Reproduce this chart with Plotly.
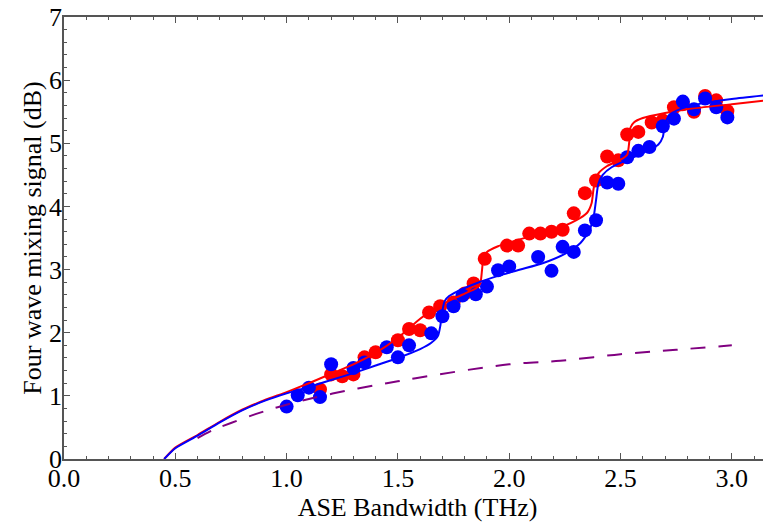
import plotly.graph_objects as go

# ---- measured data points ----
red_x = [1.15, 1.20, 1.25, 1.30, 1.35, 1.40, 1.50, 1.55, 1.60, 1.64, 1.69, 1.75, 1.80, 1.84,
         1.89, 1.99, 2.04, 2.09, 2.14, 2.19, 2.24, 2.29, 2.34, 2.39, 2.44, 2.49, 2.53, 2.58,
         2.64, 2.69, 2.74, 2.78, 2.83, 2.88, 2.93, 2.98]
red_y = [1.10, 1.34, 1.31, 1.34, 1.61, 1.69, 1.88, 2.06, 2.04, 2.32, 2.42, 2.48, 2.62, 2.78,
         3.17, 3.38, 3.38, 3.57, 3.57, 3.60, 3.63, 3.89, 4.21, 4.41, 4.79, 4.73, 5.14, 5.18,
         5.33, 5.36, 5.57, 5.62, 5.50, 5.75, 5.68, 5.51]

blue_x = [1.00, 1.05, 1.10, 1.15, 1.20, 1.30, 1.35, 1.45, 1.50, 1.55, 1.65, 1.70, 1.75, 1.79,
          1.85, 1.90, 1.95, 2.00, 2.13, 2.19, 2.24, 2.29, 2.34, 2.39, 2.44, 2.49, 2.53, 2.58,
          2.63, 2.69, 2.74, 2.78, 2.83, 2.88, 2.93, 2.98]
blue_y = [0.83, 1.01, 1.13, 0.98, 1.50, 1.44, 1.53, 1.77, 1.61, 1.80, 1.99, 2.26, 2.42, 2.59,
          2.61, 2.73, 2.99, 3.05, 3.20, 2.98, 3.36, 3.28, 3.62, 3.78, 4.38, 4.36, 4.78, 4.88,
          4.94, 5.27, 5.39, 5.66, 5.54, 5.71, 5.57, 5.41]

# ---- fitted curves ----
red_fit_x = [0.45, 0.50, 0.60, 0.70, 0.80, 0.90, 1.00, 1.10, 1.20, 1.30, 1.40, 1.50, 1.60, 1.65,
             1.70, 1.75, 1.80, 1.85, 1.87, 1.878, 1.885, 1.90, 1.95, 2.00, 2.10, 2.20, 2.30,
             2.35, 2.37, 2.38, 2.40, 2.44, 2.50, 2.53, 2.54, 2.545, 2.56, 2.60, 2.70, 2.80,
             3.00, 3.18]
red_fit_y = [0.00, 0.18, 0.38, 0.59, 0.78, 0.93, 1.06, 1.20, 1.35, 1.50, 1.68, 1.92, 2.22, 2.35,
             2.45, 2.54, 2.62, 2.70, 2.78, 3.00, 3.20, 3.28, 3.37, 3.43, 3.53, 3.63, 3.78,
             3.90, 4.05, 4.30, 4.52, 4.64, 4.74, 4.82, 5.05, 5.25, 5.33, 5.40, 5.48, 5.54,
             5.62, 5.69]

blue_fit_x = [0.45, 0.50, 0.60, 0.70, 0.80, 0.90, 1.00, 1.10, 1.20, 1.30, 1.40, 1.50, 1.60, 1.65,
              1.68, 1.69, 1.70, 1.71, 1.73, 1.77, 1.85, 1.95, 2.05, 2.15, 2.25, 2.32, 2.36,
              2.38, 2.39, 2.40, 2.42, 2.46, 2.55, 2.62, 2.67, 2.69, 2.70, 2.72, 2.76, 2.85,
              3.00, 3.18]
blue_fit_y = [0.00, 0.17, 0.37, 0.58, 0.77, 0.92, 1.04, 1.14, 1.25, 1.36, 1.48, 1.60, 1.74, 1.84,
              1.95, 2.10, 2.35, 2.50, 2.58, 2.66, 2.78, 2.90, 3.00, 3.10, 3.25, 3.42, 3.62,
              3.85, 4.10, 4.35, 4.50, 4.62, 4.77, 4.88, 4.98, 5.10, 5.30, 5.45, 5.53, 5.62,
              5.70, 5.77]

dash_x = [0.60, 0.67, 0.75, 0.86, 0.96, 1.10, 1.28, 1.45, 1.58, 2.00, 2.23, 2.50, 2.75, 3.00]
dash_y = [0.33, 0.46, 0.57, 0.71, 0.82, 0.95, 1.09, 1.20, 1.28, 1.50, 1.555, 1.66, 1.73, 1.80]

RED = "#ff0000"
BLUE = "#0000ff"
PURPLE = "#800080"
FONT = "Liberation Serif"
AX = "#555555"
FS = 26

fig = go.Figure()
fig.add_trace(go.Scatter(x=red_x, y=red_y, mode="markers",
                         marker=dict(color=RED, size=14, line=dict(width=0)), showlegend=False))
fig.add_trace(go.Scatter(x=blue_x, y=blue_y, mode="markers",
                         marker=dict(color=BLUE, size=14, line=dict(width=0)), showlegend=False))
fig.add_trace(go.Scatter(x=red_fit_x, y=red_fit_y, mode="lines",
                         line=dict(color=RED, width=2, shape="spline", smoothing=0.6), showlegend=False))
fig.add_trace(go.Scatter(x=blue_fit_x, y=blue_fit_y, mode="lines",
                         line=dict(color=BLUE, width=2, shape="spline", smoothing=0.6), showlegend=False))
fig.add_trace(go.Scatter(x=dash_x, y=dash_y, mode="lines",
                         line=dict(color=PURPLE, width=2, dash="15px,13px", shape="spline"),
                         showlegend=False))

# the page body has an 8px margin, so the figure is laid out 8px up/left
fig.update_layout(
    width=771, height=529,
    margin=dict(l=56, r=8, t=9, b=78, autoexpand=False),
    plot_bgcolor="white", paper_bgcolor="white",
    font=dict(family=FONT, size=FS, color="black"),
    xaxis=dict(range=[0, 3.176], dtick=0.5, tick0=0, tickformat=".1f",
               ticks="inside", ticklen=6, tickwidth=1, tickcolor=AX,
               showline=True, linecolor=AX, linewidth=1.5, mirror="ticks",
               showgrid=False, zeroline=False, automargin=False,
               ticklabelstandoff=-5, ticklabeloverflow="allow",
               minor=dict(dtick=0.1, ticks="inside", ticklen=3, tickcolor=AX, showgrid=False),
               title=dict(text="ASE Bandwidth (THz)", font=dict(family=FONT, size=FS), standoff=6),
               tickfont=dict(family=FONT, size=FS)),
    yaxis=dict(range=[0, 7], dtick=1, tick0=0,
               ticks="inside", ticklen=6, tickwidth=1, tickcolor=AX,
               showline=True, linecolor=AX, linewidth=1.5, mirror="ticks",
               showgrid=False, zeroline=False, automargin=False,
               ticklabelstandoff=-5, ticklabeloverflow="allow",
               minor=dict(dtick=0.2, ticks="inside", ticklen=3, tickcolor=AX, showgrid=False),
               title=dict(text="Four wave mixing signal (dB)", font=dict(family=FONT, size=FS), standoff=0),
               tickfont=dict(family=FONT, size=FS)),
)

fig.write_html("out.html")
